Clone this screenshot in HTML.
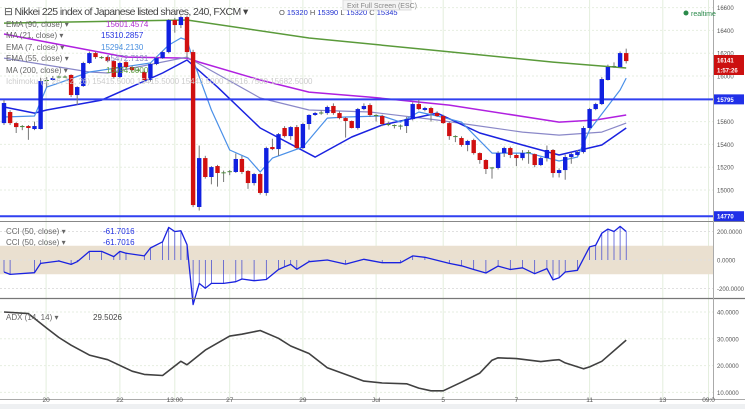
<!DOCTYPE html>
<html><head><meta charset="utf-8"><style>
html,body{margin:0;padding:0;background:#fff;}
svg{display:block;font-family:"Liberation Sans",sans-serif;}
</style></head><body>
<svg id="chart" width="745" height="409" viewBox="0 0 745 409" xmlns="http://www.w3.org/2000/svg">
<rect width="745" height="409" fill="#fff"/>
<g id="grid"></g>
<g id="main"></g>
<g id="cci"></g>
<g id="adx"></g>
<g id="axes"></g>
<g font-size="8">
  <text x="4" y="15" font-size="10.5" fill="#444" letter-spacing="-0.6">⊟ Nikkei 225 index of Japanese listed shares, 240, FXCM ▾</text>
  <text x="279" y="15" font-size="7.5" fill="#555">O <tspan fill="#2030d0">15320</tspan> H <tspan fill="#2030d0">15390</tspan> L <tspan fill="#2030d0">15320</tspan> C <tspan fill="#2030d0">15345</tspan></text>
  <text x="6" y="27" fill="#666">EMA (90, close) ▾</text><text x="106" y="27" fill="#b030d0">15601.4574</text>
  <text x="6" y="38" fill="#666">MA (21, close) ▾</text><text x="101" y="38" fill="#2030e0">15310.2857</text>
  <text x="6" y="50" fill="#666">EMA (7, close) ▾</text><text x="101" y="50" fill="#4a90e0">15294.2130</text>
  <text x="6" y="61" fill="#666">EMA (55, close) ▾</text><text x="106" y="61" fill="#8888c0">15472.7131</text>
  <text x="6" y="73" fill="#666">MA (200, close) ▾</text><text x="106" y="73" fill="#60a040">16094.0000</text>
  <text x="6" y="84" fill="#ccc">Ichimoku (9, 26, 52, 26)   15415.5000 15415.5000 15443.5000 15516.7500 15682.5000</text>
  <text x="6" y="234" fill="#666">CCI (50, close) ▾</text><text x="103" y="234" fill="#2030e0">-61.7016</text>
  <text x="6" y="245" fill="#666">CCI (50, close) ▾</text><text x="103" y="245" fill="#2030e0">-61.7016</text>
  <text x="6" y="320" fill="#666">ADX (14, 14) ▾</text><text x="93" y="320" fill="#444">29.5026</text>
</g>
<g><rect x="343" y="0" width="68" height="10" fill="#f4f4f4" stroke="#ddd"/><text x="347" y="8" font-size="7" fill="#888">Exit Full Screen (ESC)</text></g>
<g><circle cx="686" cy="13" r="2.5" fill="#2a8a4a"/><text x="691" y="16" font-size="7" fill="#2a8a4a">realtime</text></g>
</svg>
<script>
// ---- data ----
const opens  = [15587,15684,15587,15561,15561,15535,15535,15960,15965,15990,15995,16009,15833,15912,16114,16201,16166,16166,16131,15991,16122,16079,16052,16035,15965,16105,16157,16210,16491,16447,16517,16210,14851,15280,15114,15210,15149,15158,15158,15272,15167,15061,15140,14974,15377,15359,15544,15473,15552,15368,15579,15658,15675,15675,15737,15675,15631,15605,15544,15710,15745,15658,15649,15579,15570,15561,15561,15622,15754,15702,15719,15675,15649,15587,15473,15456,15395,15438,15324,15263,15193,15193,15324,15368,15307,15280,15333,15315,15219,15280,15351,15149,15175,15289,15307,15333,15544,15710,15754,15965,16088,16079,16201];
const closes = [15763,15587,15552,15552,15544,15561,15956,15965,15982,15995,15991,15833,15903,16114,16201,16166,16160,16131,15991,16114,16079,16052,16055,15965,16105,16157,16210,16491,16447,16517,16210,14868,15280,15114,15201,15149,15155,15165,15272,15158,15061,15140,14974,15368,15359,15490,15473,15552,15368,15579,15658,15675,15680,15728,15675,15631,15605,15544,15710,15737,15658,15649,15579,15570,15561,15565,15622,15754,15710,15719,15675,15649,15587,15473,15465,15395,15430,15324,15263,15184,15198,15324,15368,15307,15280,15324,15330,15219,15280,15351,15149,15175,15289,15315,15333,15544,15710,15754,15973,16079,16079,16201,16131];
const highs  = [15790,15700,15595,15570,15570,15600,15985,15990,16000,16005,16005,16015,15910,16125,16215,16215,16175,16175,16140,16125,16130,16090,16065,16045,16115,16170,16220,16500,16510,16530,16530,16230,15390,15300,15210,15220,15170,15175,15320,15300,15175,15150,15150,15380,15450,15500,15560,15560,15570,15590,15665,15685,15700,15740,15760,15690,15640,15610,15720,15760,15760,15665,15660,15600,15575,15575,15640,15770,15790,15730,15730,15690,15660,15600,15480,15470,15440,15450,15330,15270,15200,15340,15380,15380,15320,15350,15350,15320,15290,15390,15360,15190,15310,15330,15350,15560,15720,15765,15990,16100,16120,16215,16240];
const lows   = [15570,15570,15500,15525,15440,15525,15530,15900,15960,15985,15985,15815,15745,15905,16105,16150,16150,16120,15975,15980,16070,16040,16040,15950,15950,16095,16150,16200,16380,16420,16160,14850,14820,15100,15050,15030,15070,15130,15150,15140,15010,15040,14960,14950,15350,15300,15460,15440,15360,15360,15530,15650,15660,15660,15660,15620,15460,15540,15530,15700,15640,15600,15560,15560,15540,15530,15500,15610,15700,15690,15600,15640,15580,15440,15420,15380,15340,15310,15230,15140,15100,15180,15290,15280,15210,15260,15230,15200,15210,15250,15110,15110,15090,15230,15300,15320,15530,15700,15745,15960,16070,16070,16110];
const ma200Idx = [0,30,50,70,90,102];
const ma200Val = [16464,16491,16333,16228,16122,16070];
const ema90Idx = [0,20,30,32,42,50,60,73,91,97,102];
const ema90Val = [16368,16166,16157,16122,15965,15859,15815,15745,15596,15614,15658];
const ema55Idx = [0,14,17,30,42,50,60,71,85,91,98,102];
const ema55Val = [16157,16035,16026,16166,15807,15702,15684,15614,15508,15482,15508,15587];
const ma21Idx = [0,5,7,16,26,30,35,42,51,57,62,71,78,85,91,98,102];
const ma21Val = [15728,15675,15702,15789,16026,16140,15903,15544,15289,15465,15570,15675,15500,15395,15307,15395,15544];
const ema7Idx = [0,5,7,9,14,24,27,29,30,31,34,37,40,42,44,49,53,56,62,65,68,71,75,80,86,91,94,96,101,102];
const ema7Val = [15640,15649,15903,15938,16035,16114,16271,16333,16315,16140,15702,15351,15280,15158,15280,15377,15631,15640,15649,15596,15684,15649,15596,15324,15324,15254,15289,15526,15877,15982];
const cciIdx = [0,1,5,6,9,11,12,14,16,18,19,20,23,24,26,27,28,29,30,31,32,33,34,36,38,39,41,43,45,46,47,48,50,53,56,59,62,65,67,69,73,75,77,79,81,83,85,87,89,90,91,92,94,96,97,98,99,100,101,102];
const cciVal = [-84,-101,-89,-24,-7,-31,-12,60,60,24,60,48,29,84,128,229,200,205,108,-313,-164,-198,-164,-164,-152,-133,-145,-137,-67,-48,-31,-65,-12,0,-29,5,-19,-19,29,19,-24,-41,-67,-91,-43,-67,-55,-96,-60,-140,-125,-84,-72,92,104,188,217,200,236,200];
const adxIdx = [0,4,7,9,11,14,17,21,23,26,29,30,33,37,39,42,45,47,50,53,57,59,62,66,68,70,72,75,78,80,81,84,88,90,91,92,95,96,98,102];
const adxVal = [40,39.4,34,30.5,27.6,23.9,22.2,17.9,16.7,16.3,21.6,20.3,25.8,31,31.7,33.1,30.2,27.3,24.5,19.2,15.9,14.2,13.5,13.2,11.6,10.6,10.6,13.8,17.2,22,22.9,22.6,21.5,22,22.2,21,18.8,19.5,21.6,29.5];
const priceTicks = [16600,16400,16200,16000,15600,15400,15200,15000];
const cciTicks = [200,0,-200];
const adxTicks = [40,30,20,10];
const dateLabels = ["20","22","13:00","27","29","Jul","5","7","11","13","09:0"];
const dateIdx = [6.9,19,28,37,49,61,72,84,96,108,115.5];

// ---- scales ----
const NS="http://www.w3.org/2000/svg";
const X0=4, STEP=6.1, PLOT_R=713;
const xs = i => X0 + i*STEP;
const yp = p => 76 + (16000-p)*0.114;
const yc = v => 260 - v*0.1425;
const ya = v => 312 + (40-v)*2.68;
function mk(tag, attrs, parent){const e=document.createElementNS(NS,tag);for(const k in attrs)e.setAttribute(k,attrs[k]);parent.appendChild(e);return e;}
const grid=document.getElementById('grid'), main=document.getElementById('main'), cci=document.getElementById('cci'), adx=document.getElementById('adx'), axes=document.getElementById('axes');

dateIdx.forEach(d=>{const x=xs(d);if(x<PLOT_R){const l=mk('line',{x1:x,x2:x,y1:0,y2:400,stroke:'#e3eedd','stroke-width':1},grid);

}});
priceTicks.forEach(p=>{const l=mk('line',{x1:0,x2:PLOT_R,y1:yp(p),y2:yp(p),stroke:'#e6eee0','stroke-dasharray':'2,2'},grid);

});
const band=mk('rect',{x:0,y:yc(100),width:PLOT_R,height:yc(-100)-yc(100),fill:'#eae0d0'},grid);


cciTicks.forEach(v=>{mk('line',{x1:0,x2:PLOT_R,y1:yc(v),y2:yc(v),stroke:'#e0e0e0','stroke-dasharray':'2,2'},grid);});
adxTicks.forEach(v=>{mk('line',{x1:0,x2:PLOT_R,y1:ya(v),y2:ya(v),stroke:'#e6eee0','stroke-dasharray':'2,2'},grid);});

function line(idx, vals, color, w, name, parent, yfn){
  const pts=idx.map((i,k)=>xs(i).toFixed(1)+','+yfn(vals[k]).toFixed(1)).join(' ');
  const pl=mk('polyline',{points:pts,fill:'none',stroke:color,'stroke-width':w,'stroke-linejoin':'round'},parent);
  
  
}
line(ma200Idx,ma200Val,'#5a9a3a',1.5,'ma200-line',main,yp);
line(ema90Idx,ema90Val,'#b020e0',1.5,'ema90-line',main,yp);
line(ema55Idx,ema55Val,'#8a88c8',1.2,'ema55-line',main,yp);
line(ma21Idx,ma21Val,'#1a22e0',1.5,'ma21-line',main,yp);
line(ema7Idx,ema7Val,'#4a90e8',1.2,'ema7-line',main,yp);

[[15795,'level-15795'],[14770,'level-14770']].forEach(([p,n])=>{const l=mk('line',{x1:0,x2:PLOT_R,y1:yp(p),y2:yp(p),stroke:'#3040f0','stroke-width':2},main);

});

opens.forEach((o,i)=>{
  const c=closes[i], x=xs(i), up=c>=o, col=up?'#1020e0':'#d01010';
  const w=mk('line',{x1:x,x2:x,y1:yp(highs[i]),y2:yp(lows[i]),stroke:'#777','stroke-width':1},main);
  
  
  const top=yp(Math.max(o,c)), h=Math.max(1,Math.abs(yp(o)-yp(c)));
  const b=mk('rect',{x:x-2.2,y:top,width:4.4,height:h,fill:Math.abs(yp(o)-yp(c))<1.2?'#4a8a3a':col},main);
  
  
});

cciIdx.forEach((i,k)=>{const s=mk('line',{x1:xs(i),x2:xs(i),y1:yc(0),y2:yc(cciVal[k]),stroke:'#3a40d0','stroke-width':0.7},cci);

});
line(cciIdx,cciVal,'#1a22e0',1.3,'cci-line',cci,yc);
line(adxIdx,adxVal,'#404040',1.6,'adx-line',adx,ya);

mk('line',{x1:0,x2:745,y1:221.5,y2:221.5,stroke:'#888'},axes);
mk('line',{x1:0,x2:745,y1:298.5,y2:298.5,stroke:'#777','stroke-width':1.2},axes);
mk('line',{x1:0,x2:745,y1:399.5,y2:399.5,stroke:'#aaa'},axes);
mk('rect',{x:0,y:404,width:745,height:5,fill:'#eef0f2'},axes);
mk('line',{x1:713.5,x2:713.5,y1:0,y2:400,stroke:'#aaa'},axes);
function txt(x,y,s,attrs,name){const t=mk('text',Object.assign({x:x,y:y,'font-size':6,fill:'#555'},attrs||{}),axes);t.textContent=s;

return t;}
priceTicks.forEach(p=>txt(717,yp(p)+2.5,String(p),{},'price-tick'));
cciTicks.forEach(v=>txt(717,yc(v)+2.5,v.toFixed(4),{},'cci-tick'));
adxTicks.forEach(v=>txt(717,ya(v)+2.5,v.toFixed(4),{},'adx-tick'));
dateLabels.forEach((s,k)=>txt(xs(dateIdx[k]),402,s,{'text-anchor':'middle','font-size':6.5},'date-label'));
function tag(y,s,bg,name){const r=mk('rect',{x:714,y:y-5,width:30,height:10,fill:bg},axes);


txt(717,y+2.5,s,{fill:'#fff','font-weight':'bold'},name+'-text');}
tag(yp(15795),'15795','#2030e8','level-tag-15795');
tag(yp(14770),'14770','#2030e8','level-tag-14770');
tag(60,'16141','#cc1010','last-price-tag');
tag(70,'1:57:26','#cc1010','countdown-tag');
</script>
</body></html>
